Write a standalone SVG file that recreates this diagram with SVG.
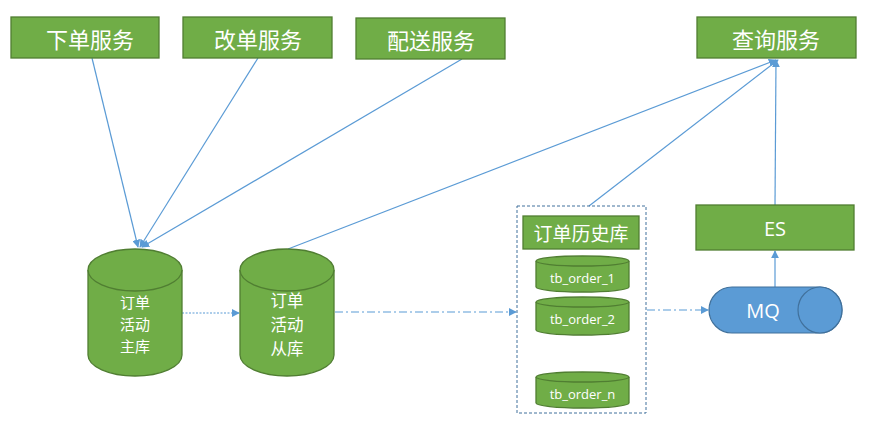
<svg xmlns="http://www.w3.org/2000/svg" width="870" height="429" viewBox="0 0 870 429">
<defs>
<style>
.box{fill:#70AD47;stroke:#507E32;stroke-width:1.3}
.cyl{fill:#70AD47;stroke:#507E32;stroke-width:1.3}
.t{font-family:"Microsoft YaHei","Noto Sans CJK SC",sans-serif;fill:#fff;text-anchor:middle;dominant-baseline:central}
.big{font-size:22px}
.mid{font-size:15px}
.sm{font-size:13px;font-family:"Open Sans","Noto Sans",sans-serif}
.ln{stroke:#5B9BD5;stroke-width:1.2;fill:none}
</style>
<marker id="ah" viewBox="0 0 10 10" refX="9" refY="5" markerWidth="8" markerHeight="8" markerUnits="userSpaceOnUse" orient="auto">
<path d="M0,0 L10,5 L0,10 z" fill="#5B9BD5"/>
</marker>
</defs>
<rect width="870" height="429" fill="#fff"/>

<g id="connectors">
<line class="ln" x1="92" y1="58" x2="138" y2="247" marker-end="url(#ah)"/>
<line class="ln" x1="258" y1="58" x2="140" y2="247" marker-end="url(#ah)"/>
<line class="ln" x1="462" y1="59" x2="142" y2="247" marker-end="url(#ah)"/>
<line class="ln" x1="288" y1="249" x2="776" y2="60" marker-end="url(#ah)"/>
<line class="ln" x1="589" y1="206" x2="778" y2="60" marker-end="url(#ah)"/>
<line class="ln" x1="775" y1="205" x2="776" y2="60" marker-end="url(#ah)"/>
<line class="ln" x1="775" y1="287" x2="775" y2="251" marker-end="url(#ah)"/>
<line class="ln" x1="182" y1="313" x2="239" y2="313" stroke-dasharray="2,1.5" marker-end="url(#ah)"/>
<line class="ln" x1="335" y1="312" x2="516" y2="312" stroke-dasharray="8,3,2,3" marker-end="url(#ah)"/>
<line class="ln" x1="647" y1="310" x2="708" y2="310" stroke-dasharray="8,3,2,3" marker-end="url(#ah)"/>
</g>

<g id="n-xiadan">
<rect class="box" x="11" y="17" width="148" height="41"/>
<text class="t big" x="90" y="38">下单服务</text>
</g>
<g id="n-gaidan">
<rect class="box" x="183" y="17" width="149" height="41"/>
<text class="t big" x="258" y="38">改单服务</text>
</g>
<g id="n-peisong">
<rect class="box" x="356" y="18" width="149" height="41"/>
<text class="t big" x="431" y="39">配送服务</text>
</g>
<g id="n-chaxun">
<rect class="box" x="697" y="17" width="159" height="41"/>
<text class="t big" x="776" y="38">查询服务</text>
</g>

<g id="n-zhuku">
<path class="cyl" d="M88,270 A47,21 0 0 1 182,270 L182,355 A47,21 0 0 1 88,355 Z"/>
<path class="cyl" d="M88,270 A47,21 0 0 0 182,270" fill="none"/>
<text class="t mid" x="135" y="301">订单</text>
<text class="t mid" x="135" y="323">活动</text>
<text class="t mid" x="135" y="345">主库</text>
</g>

<g id="n-congku">
<path class="cyl" d="M240,270 A47,21 0 0 1 334,270 L334,355 A47,21 0 0 1 240,355 Z"/>
<path class="cyl" d="M240,270 A47,21 0 0 0 334,270" fill="none"/>
<text class="t" x="287" y="300" font-size="16.5">订单</text>
<text class="t" x="287" y="324" font-size="16.5">活动</text>
<text class="t" x="287" y="348" font-size="16.5">从库</text>
</g>

<g id="n-history">
<rect x="517" y="206" width="129" height="207" fill="none" stroke="#41719C" stroke-width="1" stroke-dasharray="3,2"/>
<rect class="box" x="523" y="216" width="116" height="33" stroke="none"/>
<text class="t" x="581" y="232.5" font-size="19">订单历史库</text>
</g>

<g id="n-tb1">
<path class="cyl" d="M536,261 A46.5,5 0 0 1 629,261 L629,287 A46.5,5 0 0 1 536,287 Z"/>
<path class="cyl" d="M536,261 A46.5,5 0 0 0 629,261" fill="none"/>
<text class="t sm" x="582.5" y="278">tb_order_1</text>
</g>
<g id="n-tb2">
<path class="cyl" d="M536,302 A46.5,5 0 0 1 629,302 L629,330 A46.5,5 0 0 1 536,330 Z"/>
<path class="cyl" d="M536,302 A46.5,5 0 0 0 629,302" fill="none"/>
<text class="t sm" x="582.5" y="319">tb_order_2</text>
</g>
<g id="n-tbn">
<path class="cyl" d="M536,377 A46.5,5 0 0 1 629,377 L629,403 A46.5,5 0 0 1 536,403 Z"/>
<path class="cyl" d="M536,377 A46.5,5 0 0 0 629,377" fill="none"/>
<text class="t sm" x="582.5" y="394">tb_order_n</text>
</g>

<g id="n-es">
<rect class="box" x="696" y="205" width="158" height="45"/>
<text class="t" x="775" y="228" font-size="20" style="font-family:'Open Sans','Noto Sans',sans-serif">ES</text>
</g>

<g id="n-mq">
<path d="M732,287 L820,287 A22,23 0 0 1 820,333 L732,333 A23,23 0 0 1 732,287 Z" fill="#5B9BD5" stroke="#41719C" stroke-width="1.2"/>
<ellipse cx="820" cy="310" rx="22" ry="23" fill="#5B9BD5" stroke="#41719C" stroke-width="1.2"/>
<text class="t" x="763" y="310" font-size="20" style="font-family:'Open Sans','Noto Sans',sans-serif">MQ</text>
</g>
</svg>
